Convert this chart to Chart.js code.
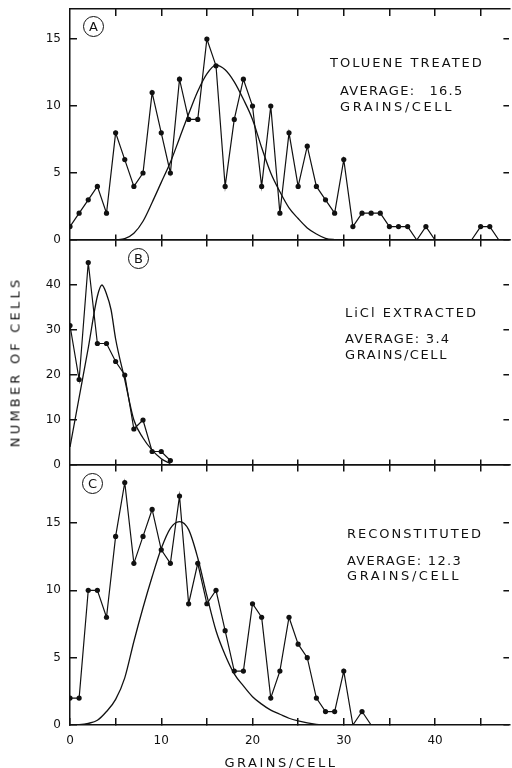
<!DOCTYPE html>
<html><head><meta charset="utf-8">
<script src="https://cdn.jsdelivr.net/npm/chart.js@4"></script>
<style>
html,body{margin:0;padding:0;background:#fff;}
#wrap{position:relative;width:512px;height:768px;overflow:hidden;}
#c{position:absolute;left:0;top:0;}
.t{position:absolute;font-family:"DejaVu Sans",sans-serif;font-size:13px;letter-spacing:2px;color:#111;white-space:nowrap;line-height:13px;}
.avg{letter-spacing:1.3px;}
.gc{letter-spacing:2.6px;}
.circ{position:absolute;width:19px;height:19px;border:1.5px solid #111;border-radius:50%;font-family:"DejaVu Sans",sans-serif;font-size:13px;color:#111;text-align:center;line-height:19px;}
#ytitle{position:absolute;left:15px;top:362px;transform:translate(-50%,-50%) rotate(-90deg);font-family:"DejaVu Sans",sans-serif;font-size:13px;letter-spacing:3.2px;color:#111;white-space:nowrap;}
#xtitle{position:absolute;left:281px;top:762px;transform:translate(-50%,-50%);font-family:"DejaVu Sans",sans-serif;font-size:13px;letter-spacing:2.5px;color:#111;white-space:nowrap;}
</style></head>
<body>
<div id="wrap">
<canvas id="c" width="512" height="768"></canvas>
<div class="circ" style="left:83px;top:16px;">A</div>
<div class="circ" style="left:128px;top:248px;">B</div>
<div class="circ" style="left:82px;top:473px;">C</div>
<div class="t" style="left:330px;top:56px;">TOLUENE TREATED</div>
<div class="t avg" style="left:340px;top:84px;">AVERAGE:<span style="margin-left:14px">16.5</span></div>
<div class="t gc" style="left:340px;top:100px;">GRAINS/CELL</div>
<div class="t" style="left:345px;top:306px;">LiCl EXTRACTED</div>
<div class="t avg" style="left:345px;top:332px;">AVERAGE: 3.4</div>
<div class="t" style="left:345px;top:348px;letter-spacing:1.6px;">GRAINS/CELL</div>
<div class="t" style="left:347px;top:527px;">RECONSTITUTED</div>
<div class="t avg" style="left:347px;top:554px;">AVERAGE: 12.3</div>
<div class="t gc" style="left:347px;top:569px;">GRAINS/CELL</div>
<div id="ytitle">NUMBER OF CELLS</div>
<div id="xtitle">GRAINS/CELL</div>
</div>
<script>
// ---- data ----
const grainsA = [0,1,2,3,4,5,6,7,8,9,10,11,12,13,14,15,16,17,18,19,20,21,22,23,24,25,26,27,28,29,30,31,32,33,34,35,36,37,38,39,40,41,42,43,44,45,46,47];
const cellsA  = [1,2,3,4,2,8,6,4,5,11,8,5,12,9,9,15,13,4,9,12,10,4,10,2,8,4,7,4,3,2,6,1,2,2,2,1,1,1,0,1,0,0,0,0,0,1,1,0];
const curveAx = [5,6,7,8,9,10,11,12,13,14,15,16,17,18,19,20,21,22,23,24,25,26,27,28,29,30];
const curveAy = [0,0.1,0.5,1.4,2.8,4.3,5.8,7.6,9.4,11.1,12.4,13.05,12.7,11.8,10.5,9.0,6.9,5.0,3.6,2.4,1.6,0.9,0.45,0.13,0.03,0];

const grainsB = [0,1,2,3,4,5,6,7,8,9,10,11];
const cellsB  = [31,19,45,27,27,23,20,8,10,3,3,1];
const curveBx = [0,1,2,3,3.5,4,4.5,5,6,7,8,9,10,11];
const curveBy = [4,15,26,37.5,40,38,34.5,28,19,10,6,3.3,1.4,0.3];

const grainsC = [0,1,2,3,4,5,6,7,8,9,10,11,12,13,14,15,16,17,18,19,20,21,22,23,24,25,26,27,28,29,30,31,32,33];
const cellsC  = [2,2,10,10,8,14,18,12,14,16,13,12,17,9,12,9,10,7,4,4,9,8,2,4,8,6,5,2,1,1,4,0,1,0];
const curveCx = [0,1,2,3,4,5,6,7,8,9,10,11,12,13,14,15,16,17,18,19,20,21,22,23,24,25,26,27,28];
const curveCy = [0,0.02,0.12,0.35,1.0,1.9,3.5,6.2,8.7,11,13.1,14.6,15.1,14.5,12.4,9.6,7.0,5.2,3.8,2.9,2.1,1.55,1.1,0.8,0.5,0.3,0.15,0.05,0];

const xTickLabels = [0,10,20,30,40];
const xTickMarks  = [5,10,15,20,25,30,35,40,45];
const yTicksA = [0,5,10,15];
const yTicksB = [0,10,20,30,40];
const yTicksC = [0,5,10,15];

// ---- helpers ----
const XMAX = 48.15;
const INK = '#111';
const FONT = {family: 'DejaVu Sans', size: 12};
const pts = (xs, ys) => xs.map((x, i) => ({x: x, y: ys[i]}));
const dataSet = (xs, ys, axis) => ({
  data: pts(xs, ys), xAxisID: 'x', yAxisID: axis, borderColor: INK, borderWidth: 1.2,
  pointRadius: c => (c.raw && c.raw.y === 0) ? 0 : 2.6,
  pointBackgroundColor: INK, pointBorderWidth: 0, pointHoverRadius: 0, tension: 0
});
const curveSet = (xs, ys, axis) => ({
  data: pts(xs, ys), xAxisID: 'x', yAxisID: axis, borderColor: INK, borderWidth: 1.3,
  pointRadius: 0, cubicInterpolationMode: 'monotone'
});
// tick marks only (no grid lines); negative length points the ticks into the plot
const tickGrid = len => ({display: true, drawOnChartArea: false, drawTicks: true, tickLength: len, color: INK, lineWidth: 1.5});
const zeroPad = s => { s.paddingTop = 0; s.paddingBottom = 0; s.paddingLeft = 0; s.paddingRight = 0; };
const setTicks = vals => s => { s.ticks = vals.map(v => ({value: v})); };

const yLeft = (max, weight, ticks) => ({
  type: 'linear', axis: 'y', position: 'left', stack: 'panels', stackWeight: weight,
  min: 0, max: max,
  grid: tickGrid(-7),
  border: {display: true, color: INK, width: 1.5},
  ticks: {color: INK, padding: 16, font: FONT},
  afterBuildTicks: setTicks(ticks),
  afterFit: s => { s.width = 70; zeroPad(s); }
});
const yRight = (max, weight, ticks) => ({
  type: 'linear', axis: 'y', position: 'right', stack: 'panelsR', stackWeight: weight,
  min: 0, max: max,
  grid: tickGrid(-6),
  border: {display: false},
  ticks: {display: false},
  afterBuildTicks: setTicks(ticks),
  afterFit: s => { s.width = 0; zeroPad(s); }
});
const xFrame = (position, len) => ({
  type: 'linear', axis: 'x', position: position, min: 0, max: XMAX,
  grid: tickGrid(len),
  border: {display: true, color: INK, width: 1.5},
  ticks: {display: false},
  afterBuildTicks: setTicks(xTickMarks),
  afterFit: s => { s.height = 0; zeroPad(s); }
});

new Chart(document.getElementById('c'), {
  type: 'line',
  data: {
    datasets: [
      dataSet(grainsA, cellsA, 'yA'), curveSet(curveAx, curveAy, 'yA'),
      dataSet(grainsB, cellsB, 'yB'), curveSet(curveBx, curveBy, 'yB'),
      dataSet(grainsC, cellsC, 'yC'), curveSet(curveCx, curveCy, 'yC')
    ]
  },
  options: {
    responsive: false, animation: false, devicePixelRatio: 1, events: [],
    layout: {padding: {top: 9, left: 0, right: 0, bottom: 0}},
    plugins: {legend: {display: false}, tooltip: {enabled: false}},
    scales: {
      x: {
        type: 'linear', axis: 'x', position: 'bottom', min: 0, max: XMAX,
        grid: tickGrid(-7),
        border: {display: true, color: INK, width: 1.5},
        ticks: {color: INK, padding: 16, font: FONT, maxRotation: 0, autoSkip: false,
                callback: v => xTickLabels.includes(v) ? String(v) : ''},
        afterBuildTicks: setTicks([0].concat(xTickMarks)),
        afterFit: s => { s.height = 43; zeroPad(s); }
      },
      xTop: xFrame('top', -7),
      sepAdown: xFrame({yA: 0}, 6),
      sepAup: xFrame({yA: 0}, -6),
      sepBdown: xFrame({yB: 0}, 6),
      sepBup: xFrame({yB: 0}, -6),
      yC: yLeft(19.3, 260, yTicksC),
      yB: yLeft(50, 225, yTicksB),
      yA: yLeft(17.24, 231, yTicksA),
      yAr: yRight(17.24, 231, yTicksA),
      yBr: yRight(50, 225, yTicksB),
      yCr: yRight(19.3, 260, yTicksC)
    }
  }
});
</script>
</body></html>
